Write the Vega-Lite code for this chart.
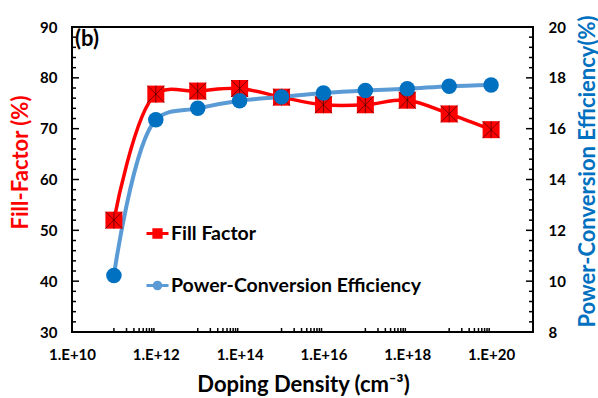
{
  "$schema": "https://vega.github.io/schema/vega-lite/v6.json",
  "width": 461,
  "height": 305,
  "autosize": "none",
  "padding": {"left": 72, "top": 27, "right": 65, "bottom": 66},
  "background": "white",
  "title": {
    "text": "(b)",
    "anchor": "start",
    "frame": "group",
    "orient": "top",
    "offset": 0,
    "dx": 3,
    "dy": 53,
    "baseline": "alphabetic",
    "font": "Lato",
    "fontSize": 22,
    "fontWeight": "bold",
    "color": "black"
  },
  "data": {
    "values": [
      {"d": 1e11, "ff": 52.0, "pce": 10.22},
      {"d": 1e12, "ff": 76.8, "pce": 16.35},
      {"d": 1e13, "ff": 77.4, "pce": 16.8},
      {"d": 1e14, "ff": 77.9, "pce": 17.1},
      {"d": 1e15, "ff": 76.2, "pce": 17.25},
      {"d": 1e16, "ff": 74.7, "pce": 17.4},
      {"d": 1e17, "ff": 74.7, "pce": 17.5},
      {"d": 1e18, "ff": 75.6, "pce": 17.57},
      {"d": 1e19, "ff": 72.9, "pce": 17.67},
      {"d": 1e20, "ff": 69.8, "pce": 17.72}
    ]
  },
  "config": {
    "font": "Lato",
    "view": {"stroke": "black", "strokeWidth": 2},
    "axis": {
      "domain": false,
      "ticks": false,
      "grid": false,
      "labelFont": "Lato",
      "labelFontSize": 15,
      "labelFontWeight": "bold",
      "labelColor": "black",
      "labelPadding": 15,
      "titleFont": "Lato",
      "titleFontSize": 22,
      "titleFontWeight": "bold",
      "labelFlush": false,
      "labelOverlap": false
    },
    "legend": {
      "orient": "none",
      "direction": "vertical",
      "labelFont": "Lato",
      "labelFontSize": 19.5,
      "labelFontWeight": "bold",
      "labelColor": "black",
      "labelLimit": 400,
      "symbolSize": 484,
      "symbolStrokeWidth": 3,
      "labelOffset": 1
    }
  },
  "resolve": {"scale": {"y": "independent"}, "axis": {"x": "independent", "y": "independent"}},
  "layer": [
    {
      "mark": {"type": "line", "color": "#FF0000", "strokeWidth": 3.5, "interpolate": "catmull-rom"},
      "encoding": {
        "x": {
          "field": "d", "type": "quantitative",
          "scale": {"type": "log", "domain": [1e10, 1e21], "nice": false},
          "axis": {
            "orient": "bottom",
            "values": [1e10, 1e12, 1e14, 1e16, 1e18, 1e20],
            "labelExpr": "'1.E+' + round(log(datum.value) / LN10)",
            "title": "Doping Density (cm⁻³)",
            "titleColor": "black",
            "titleX": 231,
            "titleY": 52,
            "titleBaseline": "middle"
          }
        },
        "y": {
          "field": "ff", "type": "quantitative",
          "scale": {"domain": [30, 90], "nice": false, "zero": false},
          "axis": {
            "orient": "left",
            "values": [30, 40, 50, 60, 70, 80, 90],
            "title": "Fill-Factor (%)",
            "titleColor": "#FF0000",
            "titleAngle": -90,
            "titleX": -52,
            "titleY": 135,
            "titleBaseline": "middle",
            "titleAlign": "center"
          }
        }
      }
    },
    {
      "mark": {"type": "line", "color": "#5B9BD5", "strokeWidth": 4, "interpolate": "catmull-rom"},
      "encoding": {
        "x": {"field": "d", "type": "quantitative", "scale": {"type": "log", "domain": [1e10, 1e21], "nice": false}, "axis": null},
        "y": {
          "field": "pce", "type": "quantitative",
          "scale": {"domain": [8, 20], "nice": false, "zero": false},
          "axis": {
            "orient": "right",
            "values": [8, 10, 12, 14, 16, 18, 20],
            "format": "d",
            "title": "Power-Conversion Efficiency(%)",
            "titleColor": "#0070C0",
            "titleAngle": -90,
            "titleX": 54,
            "titleY": 144,
            "titleBaseline": "middle",
            "titleAlign": "center"
          }
        }
      }
    },
    {
      "mark": {"type": "point", "shape": "square", "filled": true, "size": 289, "opacity": 1},
      "encoding": {
        "x": {"field": "d", "type": "quantitative", "scale": {"type": "log", "domain": [1e10, 1e21], "nice": false}, "axis": null},
        "y": {"field": "ff", "type": "quantitative", "scale": {"domain": [30, 90], "nice": false, "zero": false}, "axis": null},
        "fill": {
          "datum": "Fill Factor",
          "scale": {"domain": ["Fill Factor"], "range": ["#FF0000"]},
          "legend": {
            "title": null,
            "legendX": 73,
            "legendY": 194,
            "symbolType": "M-1,0H1M-0.33,-0.33H0.33V0.33H-0.33Z",
            "symbolStrokeColor": "#FF0000",
            "symbolFillColor": "#FF0000"
          }
        }
      }
    },
    {
      "mark": {"type": "point", "shape": "M-1,-1L1,1M-1,1L1,-1M0,-1L0,1", "filled": false, "size": 289, "stroke": "#400000", "strokeWidth": 0.7, "opacity": 1},
      "encoding": {
        "x": {"field": "d", "type": "quantitative", "scale": {"type": "log", "domain": [1e10, 1e21], "nice": false}, "axis": null},
        "y": {"field": "ff", "type": "quantitative", "scale": {"domain": [30, 90], "nice": false, "zero": false}, "axis": null}
      }
    },
    {
      "mark": {"type": "point", "shape": "circle", "filled": true, "size": 240, "opacity": 1},
      "encoding": {
        "x": {"field": "d", "type": "quantitative", "scale": {"type": "log", "domain": [1e10, 1e21], "nice": false}, "axis": null},
        "y": {"field": "pce", "type": "quantitative", "scale": {"domain": [8, 20], "nice": false, "zero": false}, "axis": null},
        "color": {
          "datum": "Power-Conversion Efficiency",
          "scale": {"domain": ["Power-Conversion Efficiency"], "range": ["#0070C0"]},
          "legend": {
            "title": null,
            "legendX": 73,
            "legendY": 246,
            "symbolType": "M-1,0H1M0.3,0A0.3,0.3 0 1,1 -0.3,0A0.3,0.3 0 1,1 0.3,0Z",
            "symbolStrokeColor": "#5B9BD5",
            "symbolFillColor": "#0070C0"
          }
        }
      }
    },
    {
      "data": {"values": [
        {"v": 30}, {"v": 32}, {"v": 34}, {"v": 36}, {"v": 38}, {"v": 40}, {"v": 42}, {"v": 44}, {"v": 46}, {"v": 48},
        {"v": 50}, {"v": 52}, {"v": 54}, {"v": 56}, {"v": 58}, {"v": 60}, {"v": 62}, {"v": 64}, {"v": 66}, {"v": 68},
        {"v": 70}, {"v": 72}, {"v": 74}, {"v": 76}, {"v": 78}, {"v": 80}, {"v": 82}, {"v": 84}, {"v": 86}, {"v": 88}, {"v": 90}
      ]},
      "mark": {"type": "point", "shape": "M0,0H1", "filled": false, "stroke": "black", "strokeWidth": 1.5, "opacity": 1},
      "encoding": {
        "x": {"datum": 1e10, "type": "quantitative", "scale": {"type": "log", "domain": [1e10, 1e21], "nice": false}, "axis": null},
        "y": {"field": "v", "type": "quantitative", "scale": {"domain": [30, 90], "nice": false, "zero": false}, "axis": null},
        "size": {"condition": {"test": "datum.v % 10 === 0", "value": 196}, "value": 64}
      }
    },
    {
      "data": {"values": [
        {"v": 8}, {"v": 8.4}, {"v": 8.8}, {"v": 9.2}, {"v": 9.6}, {"v": 10}, {"v": 10.4}, {"v": 10.8}, {"v": 11.2}, {"v": 11.6},
        {"v": 12}, {"v": 12.4}, {"v": 12.8}, {"v": 13.2}, {"v": 13.6}, {"v": 14}, {"v": 14.4}, {"v": 14.8}, {"v": 15.2}, {"v": 15.6},
        {"v": 16}, {"v": 16.4}, {"v": 16.8}, {"v": 17.2}, {"v": 17.6}, {"v": 18}, {"v": 18.4}, {"v": 18.8}, {"v": 19.2}, {"v": 19.6}, {"v": 20}
      ]},
      "mark": {"type": "point", "shape": "M0,0H-1", "filled": false, "stroke": "black", "strokeWidth": 1.5, "opacity": 1},
      "encoding": {
        "x": {"datum": 1e21, "type": "quantitative", "scale": {"type": "log", "domain": [1e10, 1e21], "nice": false}, "axis": null},
        "y": {"field": "v", "type": "quantitative", "scale": {"domain": [8, 20], "nice": false, "zero": false}, "axis": null},
        "size": {"condition": {"test": "abs(datum.v / 2 - round(datum.v / 2)) < 0.01", "value": 196}, "value": 64}
      }
    },
    {
      "data": {"values": [
        {"v": 1e11}, {"v": 2e11}, {"v": 3e11}, {"v": 4e11}, {"v": 5e11}, {"v": 6e11}, {"v": 7e11}, {"v": 8e11}, {"v": 9e11},
        {"v": 1e13}, {"v": 2e13}, {"v": 3e13}, {"v": 4e13}, {"v": 5e13}, {"v": 6e13}, {"v": 7e13}, {"v": 8e13}, {"v": 9e13},
        {"v": 1e15}, {"v": 2e15}, {"v": 3e15}, {"v": 4e15}, {"v": 5e15}, {"v": 6e15}, {"v": 7e15}, {"v": 8e15}, {"v": 9e15},
        {"v": 1e17}, {"v": 2e17}, {"v": 3e17}, {"v": 4e17}, {"v": 5e17}, {"v": 6e17}, {"v": 7e17}, {"v": 8e17}, {"v": 9e17},
        {"v": 1e19}, {"v": 2e19}, {"v": 3e19}, {"v": 4e19}, {"v": 5e19}, {"v": 6e19}, {"v": 7e19}, {"v": 8e19}, {"v": 9e19}
      ]},
      "mark": {"type": "point", "shape": "M0,0V-1", "filled": false, "stroke": "black", "strokeWidth": 1.5, "size": 64, "opacity": 1},
      "encoding": {
        "x": {"field": "v", "type": "quantitative", "scale": {"type": "log", "domain": [1e10, 1e21], "nice": false}, "axis": null},
        "y": {"datum": 30, "type": "quantitative", "scale": {"domain": [30, 90], "nice": false, "zero": false}, "axis": null}
      }
    }
  ]
}
